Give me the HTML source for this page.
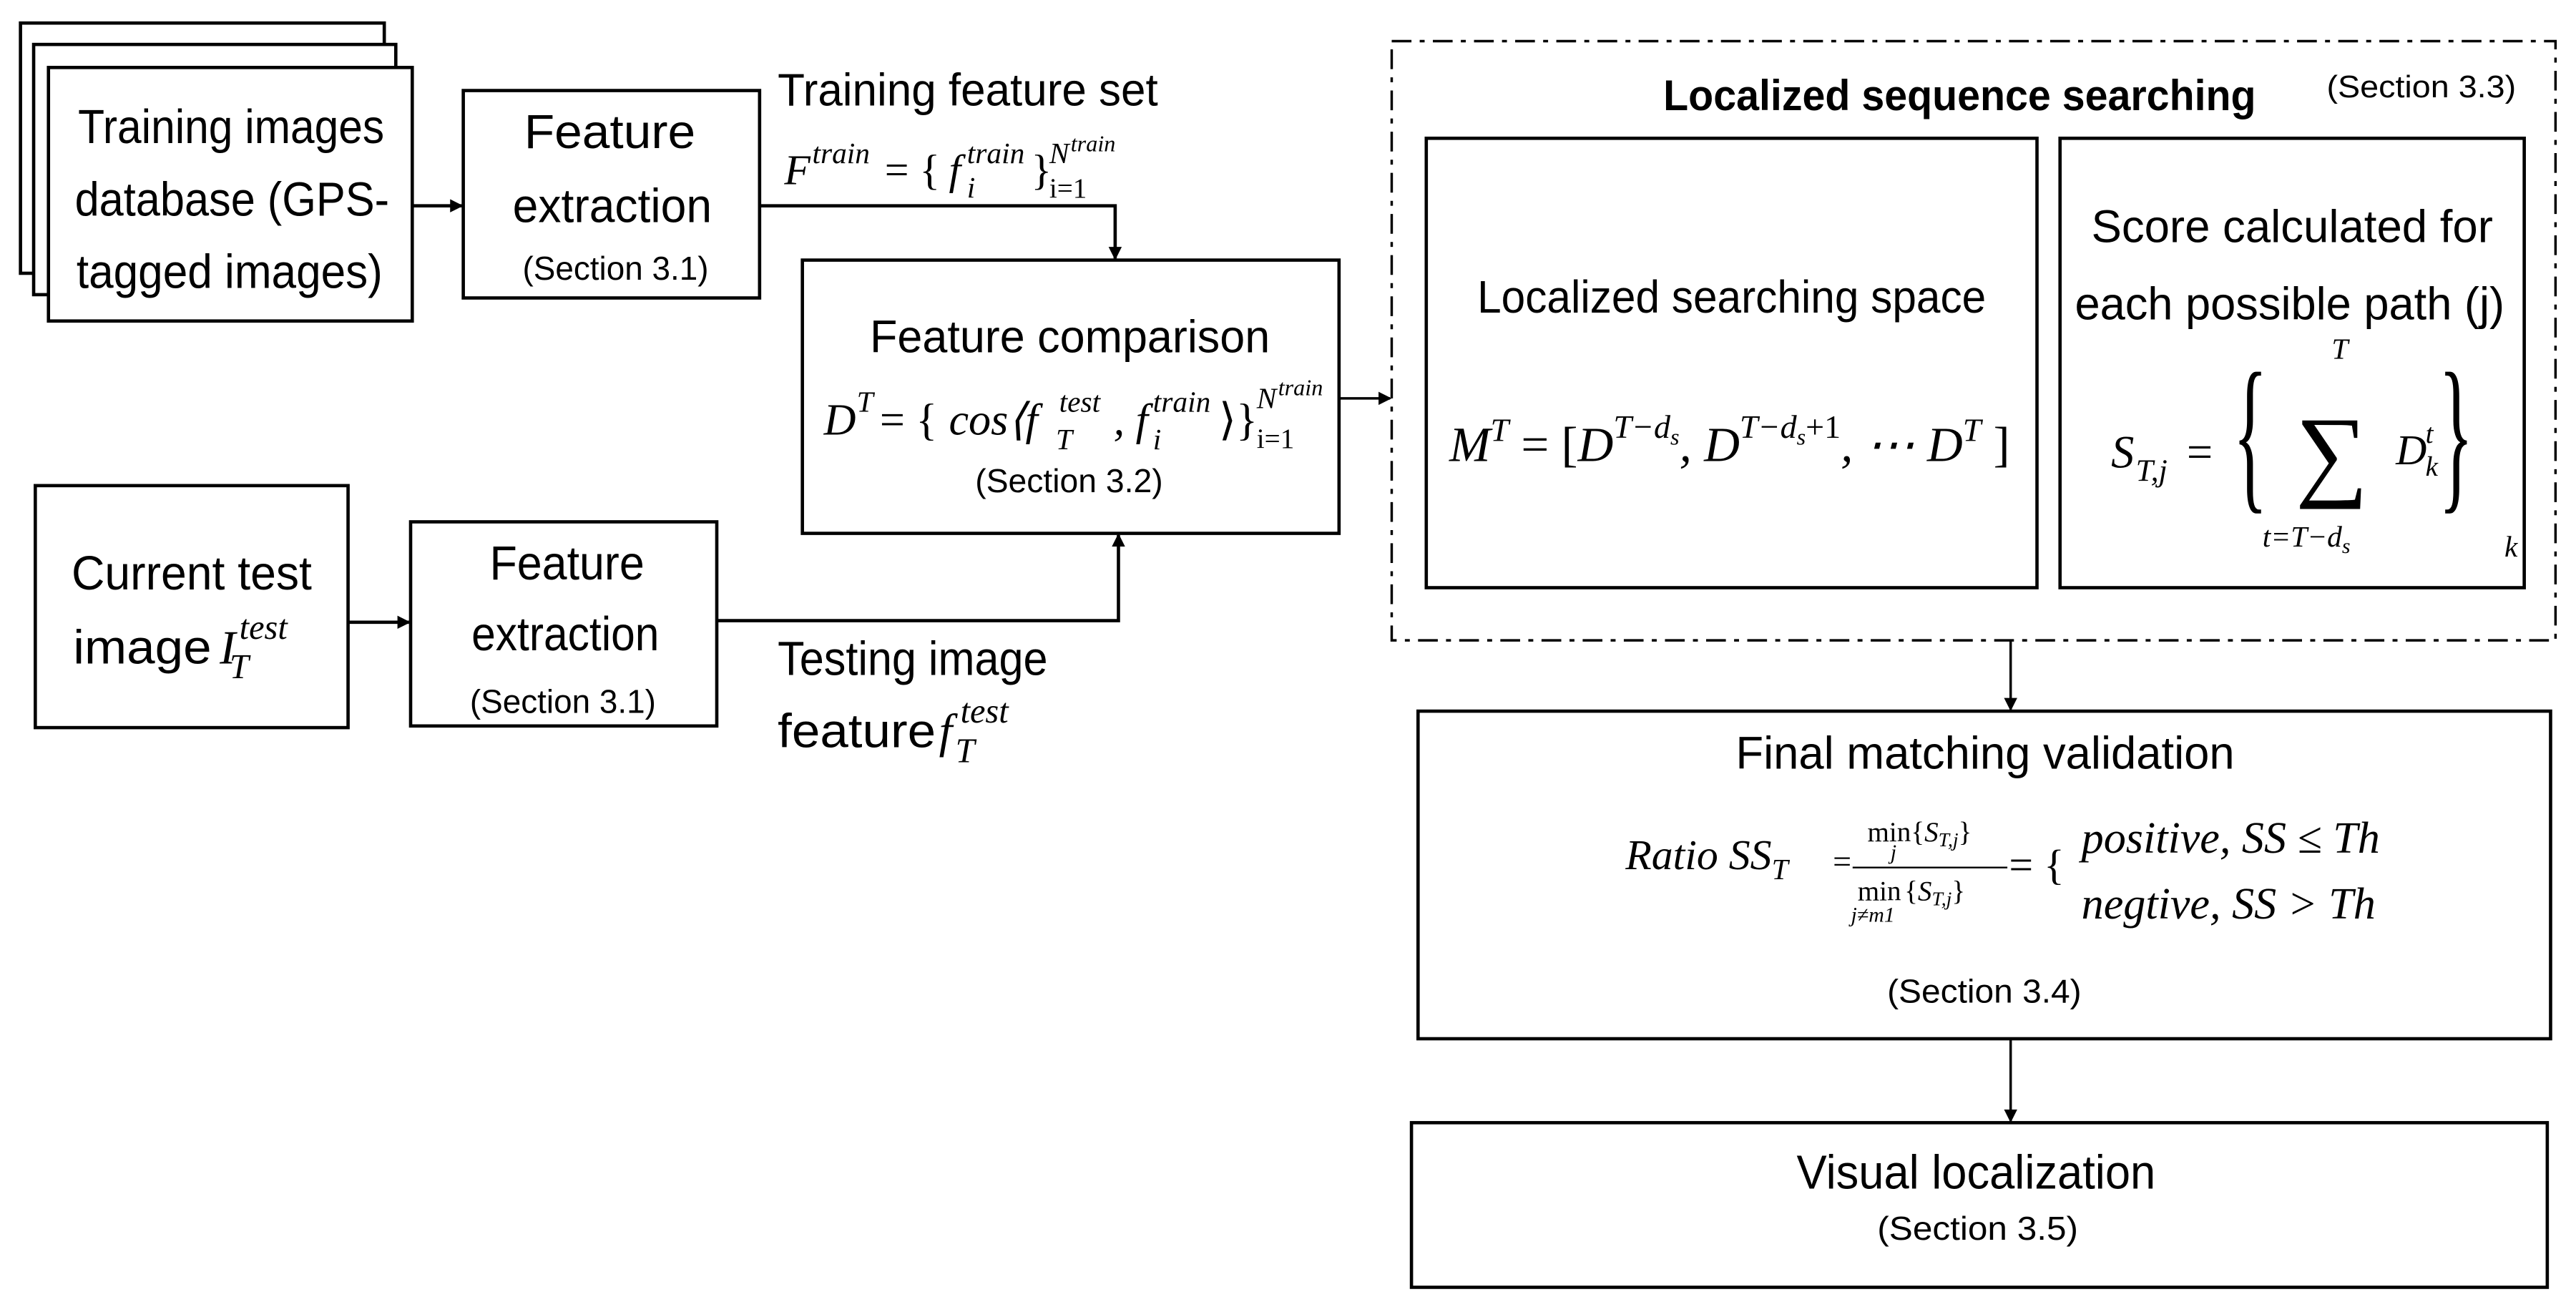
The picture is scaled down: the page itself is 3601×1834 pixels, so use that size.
<!DOCTYPE html>
<html><head><meta charset="utf-8"><style>html,body{margin:0;padding:0;background:#fff}svg{display:block}</style></head><body>
<svg width="3601" height="1834" viewBox="0 0 1564 797" xmlns="http://www.w3.org/2000/svg">
<defs><marker id="a" markerWidth="8" markerHeight="8" refX="7" refY="4" orient="auto" markerUnits="userSpaceOnUse"><path d="M0,0 L8,4 L0,8 z" fill="#000"/></marker></defs>
<g fill="#fff" stroke="#000" stroke-width="2">
<rect x="12" y="14" width="221" height="152"/>
<rect x="20" y="27" width="220" height="152"/>
<rect x="29" y="41" width="221" height="154"/>
<rect x="281" y="55" width="180" height="126"/>
<rect x="487" y="158" width="326" height="166"/>
<rect x="21" y="295" width="190" height="147"/>
<rect x="249" y="317" width="186" height="124"/>
<rect x="866" y="84" width="371" height="273"/>
<rect x="1251" y="84" width="282" height="273"/>
<rect x="861" y="432" width="688" height="199"/>
<rect x="857" y="682" width="690" height="100"/>
</g>
<rect x="845" y="25" width="707" height="364" fill="none" stroke="#000" stroke-width="1.5" stroke-dasharray="12 5 3 5"/>
<g stroke="#000" stroke-width="2" fill="none">
<line x1="250" y1="125" x2="280" y2="125" marker-end="url(#a)"/>
<polyline points="461,125 677,125 677,157" marker-end="url(#a)"/>
<line x1="813" y1="242" x2="844" y2="242" marker-end="url(#a)" stroke-width="1.5"/>
<line x1="211" y1="378" x2="248" y2="378" marker-end="url(#a)"/>
<polyline points="435,377 679,377 679,325" marker-end="url(#a)"/>
<line x1="1221" y1="389" x2="1221" y2="431" marker-end="url(#a)" stroke-width="1.5"/>
<line x1="1221" y1="631" x2="1221" y2="681" marker-end="url(#a)" stroke-width="1.5"/>
</g>
<g font-family="Liberation Sans, sans-serif" fill="#000" font-size="29">
<text x="47" y="87" textLength="186" lengthAdjust="spacingAndGlyphs">Training images</text>
<text x="45" y="131" textLength="191" lengthAdjust="spacingAndGlyphs">database (GPS-</text>
<text x="46" y="175" textLength="186" lengthAdjust="spacingAndGlyphs">tagged images)</text>
<text x="318" y="90" textLength="104" lengthAdjust="spacingAndGlyphs">Feature</text>
<text x="311" y="135" textLength="121" lengthAdjust="spacingAndGlyphs">extraction</text>
<text x="317" y="170" font-size="20" textLength="113" lengthAdjust="spacingAndGlyphs">(Section 3.1)</text>
<text x="472" y="64" font-size="28" textLength="231" lengthAdjust="spacingAndGlyphs">Training feature set</text>
<text x="528" y="214" font-size="28" textLength="243" lengthAdjust="spacingAndGlyphs">Feature comparison</text>
<text x="592" y="299" font-size="20" textLength="114" lengthAdjust="spacingAndGlyphs">(Section 3.2)</text>
<text x="43" y="358" textLength="146" lengthAdjust="spacingAndGlyphs">Current test</text>
<text x="44" y="403" textLength="84" lengthAdjust="spacingAndGlyphs">image</text>
<text x="297" y="352" textLength="94" lengthAdjust="spacingAndGlyphs">Feature</text>
<text x="286" y="395" textLength="114" lengthAdjust="spacingAndGlyphs">extraction</text>
<text x="285" y="433" font-size="20" textLength="113" lengthAdjust="spacingAndGlyphs">(Section 3.1)</text>
<text x="472" y="410" textLength="164" lengthAdjust="spacingAndGlyphs">Testing image</text>
<text x="472" y="454" textLength="96" lengthAdjust="spacingAndGlyphs">feature</text>
<text x="1010" y="67" font-size="26" font-weight="bold" textLength="360" lengthAdjust="spacingAndGlyphs">Localized sequence searching</text>
<text x="1413" y="59" font-size="19" textLength="115" lengthAdjust="spacingAndGlyphs">(Section 3.3)</text>
<text x="897" y="190" font-size="28" textLength="309" lengthAdjust="spacingAndGlyphs">Localized searching space</text>
<text x="1270" y="147" font-size="28" textLength="244" lengthAdjust="spacingAndGlyphs">Score calculated for</text>
<text x="1260" y="194" font-size="28" textLength="261" lengthAdjust="spacingAndGlyphs">each possible path (j)</text>
<text x="1054" y="467" font-size="28" textLength="303" lengthAdjust="spacingAndGlyphs">Final matching validation</text>
<text x="1146" y="609" font-size="20" textLength="118" lengthAdjust="spacingAndGlyphs">(Section 3.4)</text>
<text x="1091" y="722" font-size="29" textLength="218" lengthAdjust="spacingAndGlyphs">Visual localization</text>
<text x="1140" y="753" font-size="20" textLength="122" lengthAdjust="spacingAndGlyphs">(Section 3.5)</text>
</g>
<g font-family="Liberation Serif, serif" font-style="italic" fill="#000">
<!-- F train formula -->
<text x="476" y="112" font-size="26">F</text>
<text x="493" y="99" font-size="18">train</text>
<text x="537" y="112" font-size="26" font-style="normal">= {</text>
<text x="576" y="112" font-size="26">f</text>
<text x="587" y="99" font-size="18">train</text>
<text x="587" y="120" font-size="18">i</text>
<text x="626" y="112" font-size="26" font-style="normal">}</text>
<text x="637" y="99" font-size="18">N</text>
<text x="650" y="92" font-size="14">train</text>
<text x="637" y="120" font-size="17" font-style="normal">i=1</text>
<!-- D T formula -->
<text x="500" y="264" font-size="27">D</text>
<text x="520" y="250" font-size="18">T</text>
<text x="534" y="264" font-size="27" font-style="normal">= {</text>
<text x="576" y="264" font-size="27">cos⟨f</text>
<text x="643" y="250" font-size="18">test</text>
<text x="641" y="273" font-size="18">T</text>
<text x="676" y="264" font-size="27">, f</text>
<text x="700" y="250" font-size="18">train</text>
<text x="700" y="273" font-size="18">i</text>
<text x="740" y="264" font-size="27" font-style="normal">⟩}</text>
<text x="763" y="248" font-size="18">N</text>
<text x="776" y="240" font-size="14">train</text>
<text x="763" y="272" font-size="17" font-style="normal">i=1</text>
<!-- I test -->
<text x="133" y="403" font-size="29">I</text>
<text x="145" y="388" font-size="21">test</text>
<text x="139" y="412" font-size="21">T</text>
<!-- f test -->
<text x="570" y="454" font-size="29">f</text>
<text x="583" y="439" font-size="21">test</text>
<text x="580" y="463" font-size="21">T</text>
<!-- M T formula -->
<text x="880" y="280" font-size="30">M<tspan dy="-12" font-size="20">T</tspan><tspan dy="12" font-style="normal"> = [</tspan>D<tspan dy="-14" font-size="20">T−d</tspan><tspan dy="4" font-size="14">s</tspan><tspan dy="10">, D</tspan><tspan dy="-14" font-size="20">T−d</tspan><tspan dy="4" font-size="14">s</tspan><tspan dy="-4" font-size="20" font-style="normal">+1</tspan><tspan dy="14">, ⋯ D</tspan><tspan dy="-12" font-size="20">T</tspan><tspan dy="12" font-style="normal"> ]</tspan></text>
<!-- S formula -->
<text x="1282" y="284" font-size="28">S</text>
<text x="1297" y="292" font-size="19">T,j</text>
<text x="1328" y="284" font-size="28" font-style="normal">=</text>
<text x="1356" y="298" font-size="80" font-style="normal" transform="translate(1356 298) scale(0.55 1.3) translate(-1356 -298)">{</text>
<text x="1394" y="296" font-size="62" font-style="normal">∑</text>
<text x="1416" y="218" font-size="18">T</text>
<text x="1374" y="332" font-size="18">t=T−d<tspan font-size="13" dy="4">s</tspan></text>
<text x="1455" y="282" font-size="26">D</text>
<text x="1473" y="269" font-size="17">t</text>
<text x="1473" y="289" font-size="17">k</text>
<text x="1481" y="298" font-size="80" font-style="normal" transform="translate(1481 298) scale(0.55 1.3) translate(-1481 -298)">}</text>
<text x="1521" y="338" font-size="18">k</text>
<!-- Ratio -->
<text x="987" y="528" font-size="26">Ratio SS<tspan dy="6" font-size="18">T</tspan></text>
<text x="1113" y="530" font-size="20" font-style="normal">=</text>
<text x="1134" y="511" font-size="17" font-style="normal">min{<tspan font-style="italic">S<tspan font-size="12" dy="3">T,j</tspan></tspan><tspan dy="-3">}</tspan></text>
<text x="1148" y="522" font-size="13">j</text>
<line x1="1125" y1="527" x2="1219" y2="527" stroke="#000" stroke-width="1"/>
<text x="1128" y="547" font-size="17" font-style="normal">min<tspan dx="2">{</tspan><tspan font-style="italic">S<tspan font-size="12" dy="3">T,j</tspan></tspan><tspan dy="-3">}</tspan></text>
<text x="1124" y="560" font-size="13">j≠m1</text>
<text x="1220" y="534" font-size="26" font-style="normal">= {</text>
<text x="1264" y="518" font-size="27">positive, SS ≤ Th</text>
<text x="1264" y="558" font-size="27">negtive, SS &gt; Th</text>
</g>
</svg>
</body></html>
